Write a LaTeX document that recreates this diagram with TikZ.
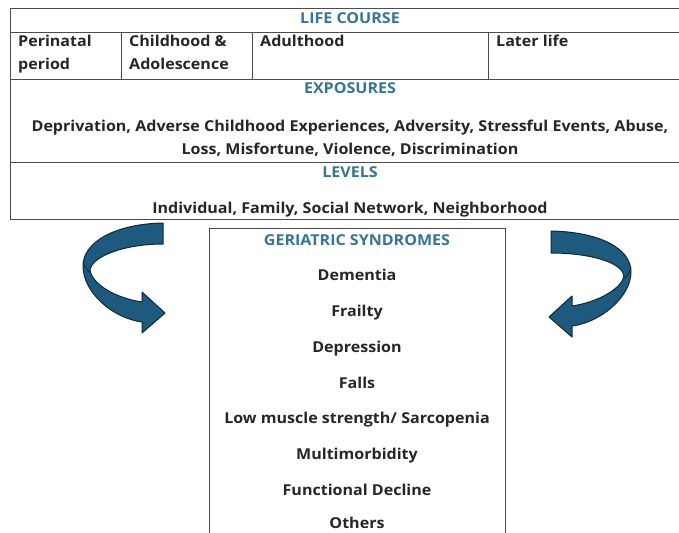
\documentclass[tikz,border=0pt]{standalone}
\usepackage{fontspec}
\setmainfont[FakeStretch=1.07]{Open Sans}
\begin{document}
\begin{tikzpicture}[x=1pt,y=-1pt,
  grid/.style={draw=black!70,line width=0.9pt},
  head/.style={text=teal1,font=\fontsize{15}{17}\selectfont\bfseries,anchor=center,text height=11pt,text depth=3pt},
  body/.style={text=black!85,font=\fontsize{15}{17}\selectfont\bfseries,anchor=center,text height=11pt,text depth=3pt},
  cell/.style={text=black!85,font=\fontsize{15}{17}\selectfont\bfseries,anchor=north west,align=left,inner sep=0pt},
  arr/.style={fill=arrowblue,draw=arrowdark,line width=1pt,line join=round}]
\definecolor{teal1}{RGB}{52,118,148}
\definecolor{arrowblue}{RGB}{30,90,125}
\definecolor{arrowdark}{RGB}{15,40,55}
\clip (0,0) rectangle (679,532);
\fill[white] (0,0) rectangle (679,532);
% table
\draw[grid] (700,8) -- (10,8) -- (10,219) -- (700,219);
\draw[grid] (10,32) -- (700,32);
\draw[grid] (10,79) -- (700,79);
\draw[grid] (10,162) -- (700,162);
\draw[grid] (121,32) -- (121,79);
\draw[grid] (252,32) -- (252,79);
\draw[grid] (488,32) -- (488,79);
\node[head] (lc) at (350,20) {LIFE COURSE};
\node[cell] (c1) at (18,35) {Perinatal\\[6pt]period};
\node[cell] (c2) at (129,35) {Childhood \&\\[6pt]Adolescence};
\node[cell] (c3) at (260,35) {Adulthood};
\node[cell] (c4) at (496,35) {Later life};
\node[head] (ex) at (350,90) {EXPOSURES};
\node[body] (ex1) at (350,127) {Deprivation, Adverse Childhood Experiences, Adversity, Stressful Events, Abuse,};
\node[body] (ex2) at (350,150) {Loss, Misfortune, Violence, Discrimination};
\node[head] (lv) at (350,173) {LEVELS};
\node[body] (lv1) at (350,209) {Individual, Family, Social Network, Neighborhood};
% geriatric box
\draw[grid] (209,545) -- (209,228) -- (505,228) -- (505,545);
\node[head] (gs) at (357,241) {GERIATRIC SYNDROMES};
\node[body] (g1) at (357,276) {Dementia};
\node[body] (g2) at (357,312) {Frailty};
\node[body] (g3) at (357,348) {Depression};
\node[body] (g4) at (357,384) {Falls};
\node[body] (g5) at (357,419) {Low muscle strength/ Sarcopenia};
\node[body] (g6) at (357,455) {Multimorbidity};
\node[body] (g7) at (357,491) {Functional Decline};
\node[body] (g8) at (357,524) {Others};
% curved arrows
\path[arr] (163,223) .. controls (115,224) and (83,242) .. (83,266)
  .. controls (83,292) and (112,318) .. (142,322)
  -- (142,333) -- (165,313) -- (142,292) -- (142,302)
  .. controls (115,298) and (92,284) .. (90,270)
  .. controls (92,256) and (125,244) .. (163,244) -- cycle;
\draw[arrowdark,line width=0.8pt] (83,262) .. controls (86,270) and (89,272) .. (90,272);
\begin{scope}[xshift=714pt,xscale=-1,yshift=-4pt]
\path[arr] (163,227) .. controls (115,228) and (83,244) .. (83,268)
  .. controls (83,292) and (112,318) .. (142,322)
  -- (142,333) -- (165,313) -- (142,292) -- (142,302)
  .. controls (115,298) and (92,284) .. (90,272)
  .. controls (92,258) and (125,249) .. (163,249) -- cycle;
\draw[arrowdark,line width=0.8pt] (83,264) .. controls (86,272) and (89,274) .. (90,274);
\end{scope}
\end{tikzpicture}
\end{document}
